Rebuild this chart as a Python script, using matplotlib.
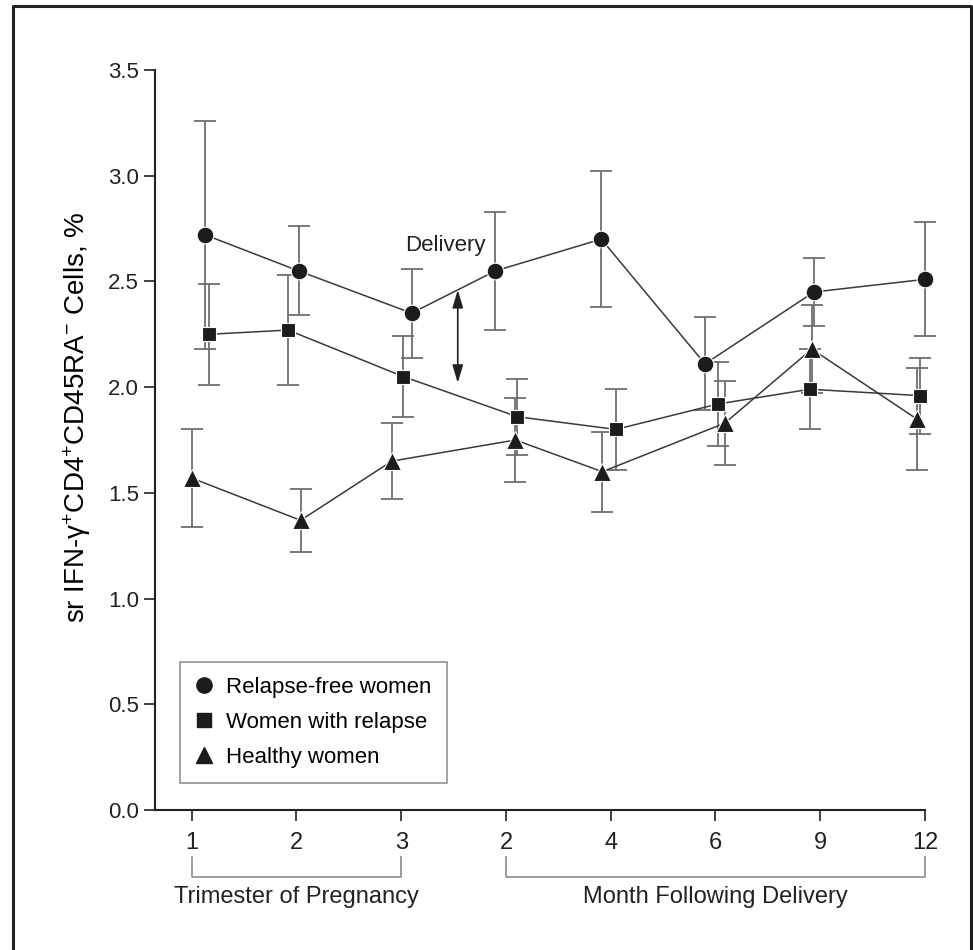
import matplotlib.pyplot as plt
from matplotlib.lines import Line2D
import matplotlib.transforms as mtransforms

plt.rcParams['font.family'] = ['Liberation Sans', 'DejaVu Sans']
plt.rcParams['mathtext.fontset'] = 'custom'
plt.rcParams['mathtext.rm'] = 'Liberation Sans'
plt.rcParams['mathtext.it'] = 'Liberation Sans'

# tick labels along x (trimesters 1-3, then months after delivery)
tick_labels = ['1', '2', '3', '2', '4', '6', '9', '12']

# relapse-free women (circles)
free_x = [0.13, 1.02, 2.10, 2.90, 3.91, 4.90, 5.94, 7.00]
free_y = [2.72, 2.55, 2.35, 2.55, 2.70, 2.11, 2.45, 2.51]
free_err = [0.54, 0.21, 0.21, 0.28, 0.32, 0.22, 0.16, 0.27]

# women with relapse (squares)
relapse_x = [0.17, 0.92, 2.02, 3.11, 4.05, 5.02, 5.90, 6.95]
relapse_y = [2.25, 2.27, 2.05, 1.86, 1.80, 1.92, 1.99, 1.96]
relapse_err = [0.24, 0.26, 0.19, 0.18, 0.19, 0.20, 0.19, 0.18]

# healthy women (triangles)
healthy_x = [0.00, 1.04, 1.91, 3.09, 3.92, 5.09, 5.92, 6.92]
healthy_y = [1.57, 1.37, 1.65, 1.75, 1.60, 1.83, 2.18, 1.85]
healthy_err = [0.23, 0.15, 0.18, 0.20, 0.19, 0.20, 0.21, 0.24]

fig = plt.figure(figsize=(9.73, 9.5), dpi=100)
ax = fig.add_axes([155 / 973, 1 - 810 / 950, 770 / 973, 740 / 950])

series = [
    (free_x, free_y, free_err, 'o', 12, 'Relapse-free women'),
    (relapse_x, relapse_y, relapse_err, 's', 10.5, 'Women with relapse'),
    (healthy_x, healthy_y, healthy_err, '^', 12.5, 'Healthy women'),
]
handles = []
for xs, ys, es, mk, ms, lab in series:
    eb = ax.errorbar(xs, ys, yerr=es, fmt='none', ecolor='#6e6e6e', elinewidth=1.3,
                     capsize=8, capthick=1.3, zorder=2)
    for art in eb.lines[1] + eb.lines[2]:
        art.set_clip_on(False)
    ax.plot(xs, ys, color='#3a3a3a', lw=1.1, zorder=3, clip_on=False)
    ax.plot(xs, ys, ls='none', marker=mk, ms=ms, mfc='#1c1c1c',
            mec='white', mew=0.8, zorder=4, clip_on=False)
    handles.append(Line2D([], [], ls='none', marker=mk, ms=ms - 1,
                          mfc='#1c1c1c', mec='#1c1c1c', label=lab))

ax.set_xlim(-0.35, 7.0)
ax.set_ylim(0, 3.5)
ax.set_xticks(range(len(tick_labels)))
ax.set_xticklabels(tick_labels, fontsize=17)
ax.set_yticks([0, 0.5, 1.0, 1.5, 2.0, 2.5, 3.0, 3.5])
ax.set_yticklabels(['0.0', '0.5', '1.0', '1.5', '2.0', '2.5', '3.0', '3.5'], fontsize=16)
ax.tick_params(axis='both', direction='out', length=8, width=1.2, colors='#222222')
ax.tick_params(axis='x', pad=8)
for s in ['top', 'right']:
    ax.spines[s].set_visible(False)
for s in ['left', 'bottom']:
    ax.spines[s].set_linewidth(1.5)
    ax.spines[s].set_color('#222222')

ax.set_ylabel('sr IFN-γ$^{+}$CD4$^{+}$CD45RA$^{-}$ Cells, %', fontsize=20)
ax.yaxis.set_label_coords(-0.08, 0.53)

# delivery annotation
ax.text(2.42, 2.67, 'Delivery', fontsize=16, ha='center', va='center', color='#222222')
ax.annotate('', xy=(2.54, 2.46), xytext=(2.54, 2.02),
            arrowprops=dict(arrowstyle='<|-|>,head_length=0.6,head_width=0.18',
                            color='#222222', lw=1.2,
                            mutation_scale=18, shrinkA=0, shrinkB=0))

# brackets under the axis
trans = mtransforms.blended_transform_factory(ax.transData, ax.transAxes)
for x0, x1, txt in [(0, 2, 'Trimester of Pregnancy'), (3, 7, 'Month Following Delivery')]:
    ax.plot([x0, x0, x1, x1], [-0.0635, -0.0905, -0.0905, -0.0635], color='#8a8a8a',
            lw=1.2, transform=trans, clip_on=False)
    ax.text((x0 + x1) / 2, -0.118, txt, fontsize=17, ha='center', va='center',
            transform=trans, color='#222222')

leg = ax.legend(handles=handles, loc='lower left', bbox_to_anchor=(0.032, 0.036),
                borderaxespad=0, fontsize=16, frameon=True, fancybox=False,
                handlelength=0.8, handletextpad=0.6, labelspacing=0.62, borderpad=0.7)
leg.get_frame().set_edgecolor('#777777')
leg.get_frame().set_linewidth(1.2)

# outer frame (left, top, right)
fig.add_artist(Line2D([13 / 973, 13 / 973, 971 / 973, 971 / 973],
                      [0, 1 - 6 / 950, 1 - 6 / 950, 0], color='#222222', lw=2.2))

fig.savefig('out.png', dpi=100)
